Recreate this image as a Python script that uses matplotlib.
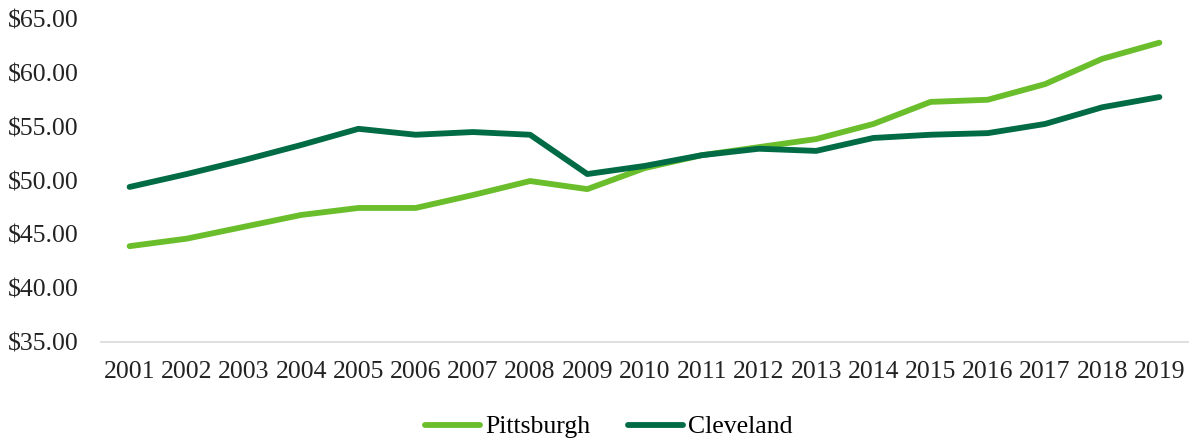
import matplotlib
matplotlib.use('Agg')
import matplotlib.pyplot as plt
from matplotlib.ticker import FuncFormatter

years = list(range(2001, 2020))
pittsburgh = [43.9, 44.6, 45.7, 46.8, 47.45, 47.45, 48.65, 49.95, 49.2, 51.15,
              52.35, 53.1, 53.85, 55.25, 57.3, 57.5, 58.95, 61.3, 62.8]
cleveland = [49.4, 50.6, 51.9, 53.3, 54.8, 54.25, 54.5, 54.25, 50.6, 51.35,
             52.35, 52.95, 52.75, 53.95, 54.25, 54.4, 55.25, 56.8, 57.75]

plt.rcParams['font.family'] = ['Liberation Serif', 'DejaVu Serif']

fig = plt.figure(figsize=(11.9, 4.41), dpi=100)
ax = fig.add_axes([101 / 1190, 1 - 342 / 441, 1087 / 1190, 323 / 441])

ax.plot(years, pittsburgh, color='#6BBE2B', lw=4.2, solid_capstyle='round',
        solid_joinstyle='round', label='Pittsburgh')
ax.plot(years, cleveland, color='#006B45', lw=4.2, solid_capstyle='round',
        solid_joinstyle='round', label='Cleveland')

ax.set_xlim(2000.5, 2019.5)
ax.set_ylim(35, 65)
ax.set_yticks(range(35, 66, 5))
ax.yaxis.set_major_formatter(FuncFormatter(lambda v, p: f'${v:.2f}'))
ax.set_xticks(years)
ax.tick_params(length=0, labelsize=18.5, colors='#222222')
ax.tick_params(axis='x', pad=14)
ax.tick_params(axis='y', pad=16)

for s in ['top', 'right', 'left']:
    ax.spines[s].set_visible(False)
ax.spines['bottom'].set_color('#d9d9d9')
ax.spines['bottom'].set_linewidth(1.2)
ax.spines['bottom'].set_zorder(0)

fig.legend(loc='center', bbox_to_anchor=(609 / 1190, 1 - 427 / 441), ncol=2,
           frameon=False, fontsize=18.5, handlelength=2.15, columnspacing=1.45,
           handletextpad=0.2)

fig.savefig('out.png', dpi=100)
